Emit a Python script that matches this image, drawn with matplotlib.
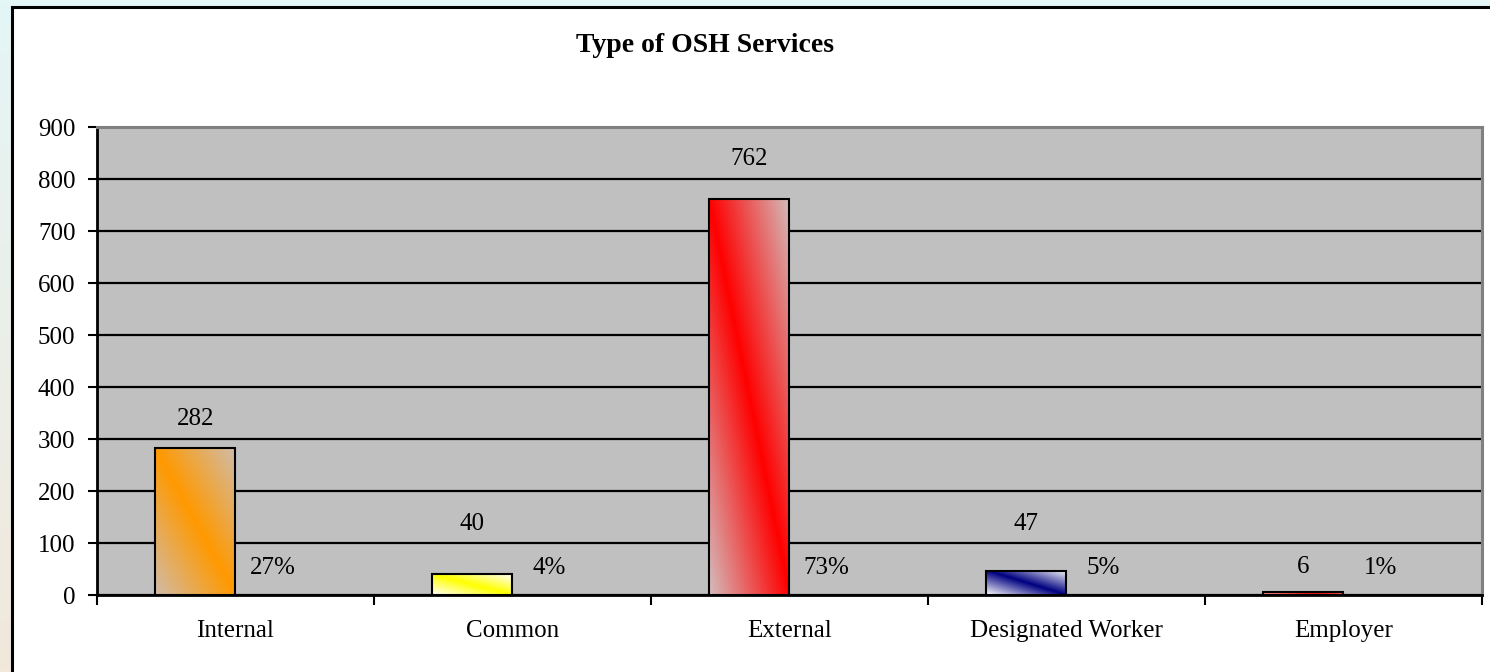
import numpy as np
import matplotlib
matplotlib.use("Agg")
import matplotlib.pyplot as plt
from matplotlib.colors import to_rgb
from matplotlib.patches import Rectangle

# Data
categories = ["Internal", "Common", "External", "Designated Worker", "Employer"]
counts = [282, 40, 762, 47, 6]
percents = [27, 4, 73, 5, 1]
y_ticks = list(range(0, 1000, 100))

# Bar colours: main colour and faded corner colour
main_colors = ["#FF9900", "#FFFF00", "#FF0000", "#000080", "#FF0000"]
fade_colors = ["#D0BCA8", "#FFFFFF", "#D4BCBC", "#FFFFFF", "#FFE0E0"]

# how far (px) each count label sits above its bar
label_gap = [29, 50, 40, 47, 25]

plt.rcParams["font.family"] = ["Liberation Serif", "DejaVu Serif"]

fig = plt.figure(figsize=(14.9, 6.72), dpi=100)

# page background gradient + white chart box
bg = fig.add_axes([0, 0, 1, 1], zorder=-10)
top = np.array(to_rgb("#E4F6F6"))
bot = np.array(to_rgb("#F2E8DC"))
t = np.linspace(0, 1, 200)[:, None, None]
grad = top * (1 - t) + bot * t
grad = np.repeat(grad, 2, axis=1)
bg.imshow(grad, extent=(0, 1, 0, 1), aspect="auto")
bg.add_patch(Rectangle((12 / 1490, -0.05), 1.1, 1 - 7 / 672 + 0.05,
                       facecolor="white", edgecolor="black", linewidth=2.2))
bg.set_xlim(0, 1)
bg.set_ylim(0, 1)
bg.axis("off")

ax = fig.add_axes([97 / 1490, 1 - 595 / 672, (1482 - 97) / 1490, (595 - 127) / 672])
ax.set_facecolor("#C0C0C0")

x = np.arange(len(categories))
bar_w = 0.289
offset = 0.145

bars = ax.bar(x - offset, counts, width=bar_w, facecolor="none",
              edgecolor="black", linewidth=1.5, zorder=3)

# diagonal gradient fill for each bar
n = 100
u, v = np.meshgrid(np.linspace(0, 1, n), np.linspace(1, 0, n))
s = np.abs(u + v - 1)
for b, mc, fc in zip(bars, main_colors, fade_colors):
    m = np.array(to_rgb(mc))
    f = np.array(to_rgb(fc))
    img = m * (1 - s[..., None]) + f * s[..., None]
    x0 = b.get_x()
    h = b.get_height()
    im = ax.imshow(img, extent=(x0, x0 + b.get_width(), 0, h), aspect="auto", zorder=2)
    im.set_clip_path(b)

# labels (offsets given in px -> points at dpi 100)
for xi, c, p, g in zip(x, counts, percents, label_gap):
    ax.annotate(str(c), (xi - offset, c), xytext=(0, g * 0.72), textcoords="offset points",
                ha="center", va="center", fontsize=18)
    ax.annotate(f"{p}%", (xi + 0.133, 0), xytext=(0, 27 * 0.72), textcoords="offset points",
                ha="center", va="center", fontsize=18)

ax.set_xlim(-0.5, len(categories) - 0.5)
ax.set_ylim(0, 900)
ax.set_yticks(y_ticks)
ax.set_yticklabels([str(v) for v in y_ticks], fontsize=18)
ax.yaxis.grid(True, color="black", linewidth=1.6)
ax.set_axisbelow(True)

ax.set_xticks(np.arange(-0.5, len(categories), 1.0))
ax.set_xticklabels([])
ax.set_xticks(x, minor=True)
ax.set_xticklabels(categories, minor=True, fontsize=18)
ax.tick_params(axis="x", which="major", length=7, width=1.5, direction="out")
ax.tick_params(axis="x", which="minor", length=0, pad=18)
ax.tick_params(axis="y", length=6.5, width=1.5, pad=9)

for side in ["left", "bottom"]:
    ax.spines[side].set_color("black")
    ax.spines[side].set_linewidth(2)
for side in ["top", "right"]:
    ax.spines[side].set_color("#808080")
    ax.spines[side].set_linewidth(2.2)

fig.text(705 / 1490, 1 - 46 / 672, "Type of OSH Services", ha="center", va="center",
         fontsize=20, fontweight="bold")

fig.savefig("out.png", dpi=100)
